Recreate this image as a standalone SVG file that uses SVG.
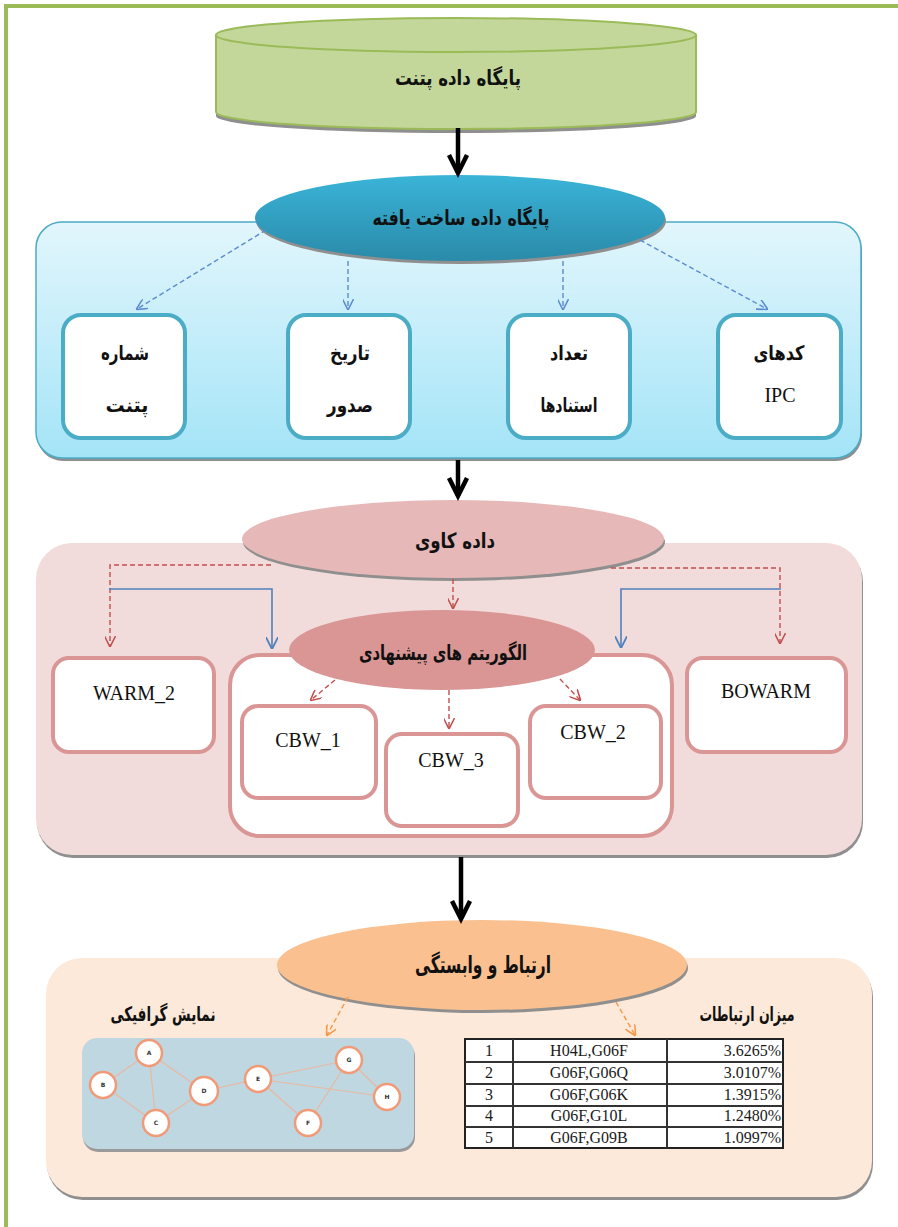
<svg xmlns="http://www.w3.org/2000/svg" width="898" height="1227" viewBox="0 0 898 1227">
<style>
.ar{font-family:"DejaVu Sans","Noto Sans",sans-serif;font-weight:bold;fill:#111;text-anchor:middle}
.lt{font-family:"Liberation Serif","Times New Roman",serif;fill:#111;text-anchor:middle;font-size:20px}
.tb{font-family:"Liberation Serif","Times New Roman",serif;fill:#1a1a1a;font-size:16px}
.box-b{fill:#fff;stroke:#4bacc6;stroke-width:4}
.box-r{fill:#fff;stroke:#d99694;stroke-width:4}
.blk{stroke:#000;stroke-width:4.5;fill:none}
.bdash{stroke:#5b8bd0;stroke-width:1.4;stroke-dasharray:5 3;fill:none}
.rdash{stroke:#c0504d;stroke-width:1.4;stroke-dasharray:5 3;fill:none}
.bsol{stroke:#4f81bd;stroke-width:1.6;fill:none}
.odash{stroke:#f79646;stroke-width:1.4;stroke-dasharray:5 3;fill:none}
.edge{stroke:#e9b8a0;stroke-width:1.2}
.gn{fill:#fff;stroke:#f19a78;stroke-width:2.5}
.gl{font-family:"DejaVu Sans",sans-serif;font-size:6px;font-weight:bold;fill:#333;text-anchor:middle}
.shadow{fill:#8f8f8f}
</style>
<defs>
<marker id="mb" viewBox="0 0 10 10" refX="9" refY="5" markerWidth="11" markerHeight="11" markerUnits="userSpaceOnUse" orient="auto"><path d="M0,0 L10,5 L0,10" fill="none" stroke="#5b8bd0" stroke-width="1.4"/></marker>
<marker id="mr" viewBox="0 0 10 10" refX="9" refY="5" markerWidth="11" markerHeight="11" markerUnits="userSpaceOnUse" orient="auto"><path d="M0,0 L10,5 L0,10" fill="none" stroke="#c0504d" stroke-width="1.4"/></marker>
<marker id="mbs" viewBox="0 0 10 10" refX="9" refY="5" markerWidth="12" markerHeight="12" markerUnits="userSpaceOnUse" orient="auto"><path d="M0,0 L10,5 L0,10" fill="none" stroke="#4f81bd" stroke-width="1.5"/></marker>
<marker id="mo" viewBox="0 0 10 10" refX="9" refY="5" markerWidth="11" markerHeight="11" markerUnits="userSpaceOnUse" orient="auto"><path d="M0,0 L10,5 L0,10" fill="none" stroke="#f79646" stroke-width="1.4"/></marker>
<linearGradient id="gBlueEll" x1="0" y1="0" x2="0" y2="1"><stop offset="0" stop-color="#3ab4d8"/><stop offset="1" stop-color="#2a8aa9"/></linearGradient>
<linearGradient id="gBluePanel" x1="0" y1="0" x2="0" y2="1"><stop offset="0" stop-color="#e2f6fc"/><stop offset="1" stop-color="#a4e4f7"/></linearGradient>
</defs>

<!-- page border -->
<g id="border">
<line x1="4" y1="6" x2="898" y2="6" stroke="#9bbb59" stroke-width="4"/>
<line x1="6" y1="4" x2="6" y2="1227" stroke="#9bbb59" stroke-width="4"/>
</g>

<!-- patent database cylinder -->
<g id="patent-db">
<path d="M216,36 L216,113 A240,17 0 0 0 696,113 L696,36 Z" class="shadow" transform="translate(0,3)"/>
<path d="M216,35 L216,112 A240,17 0 0 0 696,112 L696,35 Z" fill="#c4d79b" stroke="#9bbb59" stroke-width="2"/>
<ellipse cx="456" cy="35" rx="240" ry="17" fill="#c4d79b" stroke="#9bbb59" stroke-width="2"/>
<text class="ar" x="458" y="85" font-size="21" textLength="126" lengthAdjust="spacingAndGlyphs">پایگاه داده پتنت</text>
</g>

<!-- structured db panel -->
<g id="structured-panel">
<rect x="37" y="225" width="825" height="236" rx="26" class="shadow"/>
<rect x="36" y="222" width="825" height="236" rx="26" fill="url(#gBluePanel)" stroke="#4bacc6" stroke-width="1.5"/>
</g>

<g id="structured-db">
<ellipse cx="461" cy="221" rx="205" ry="43" class="shadow"/>
<ellipse cx="460" cy="218" rx="205" ry="43" fill="url(#gBlueEll)"/>
<text class="ar" x="461" y="225" font-size="21" textLength="177" lengthAdjust="spacingAndGlyphs">پایگاه داده ساخت یافته</text>
</g>

<g id="box-patent-no">
<rect x="63" y="315" width="122" height="123" rx="18" class="box-b"/>
<text class="ar" x="125" y="360" font-size="20" textLength="48" lengthAdjust="spacingAndGlyphs">شماره</text>
<text class="ar" x="127" y="412" font-size="20" textLength="43" lengthAdjust="spacingAndGlyphs">پتنت</text>
</g>
<g id="box-date">
<rect x="288" y="315" width="122" height="123" rx="18" class="box-b"/>
<text class="ar" x="350" y="360" font-size="20" textLength="40" lengthAdjust="spacingAndGlyphs">تاریخ</text>
<text class="ar" x="350" y="412" font-size="20" textLength="46" lengthAdjust="spacingAndGlyphs">صدور</text>
</g>
<g id="box-citations">
<rect x="508" y="315" width="122" height="123" rx="18" class="box-b"/>
<text class="ar" x="569" y="360" font-size="20" textLength="38" lengthAdjust="spacingAndGlyphs">تعداد</text>
<text class="ar" x="569" y="412" font-size="20" textLength="57" lengthAdjust="spacingAndGlyphs">استنادها</text>
</g>
<g id="box-ipc">
<rect x="718" y="315" width="123" height="123" rx="18" class="box-b"/>
<text class="ar" x="779" y="360" font-size="20" textLength="51" lengthAdjust="spacingAndGlyphs">کدهای</text>
<text class="lt" x="780" y="402">IPC</text>
</g>

<!-- data mining panel -->
<g id="mining-panel">
<rect x="37" y="546" width="826" height="312" rx="36" class="shadow"/>
<rect x="36" y="543" width="826" height="312" rx="36" fill="#f2dcdb"/>
</g>
<g id="data-mining">
<ellipse cx="454" cy="542" rx="211" ry="39" class="shadow"/>
<ellipse cx="453" cy="539" rx="211" ry="39" fill="#e6b9b8"/>
<text class="ar" x="455" y="548" font-size="21" textLength="80" lengthAdjust="spacingAndGlyphs">داده کاوی</text>
</g>

<g id="algo-container">
<rect x="230" y="655" width="442" height="181" rx="30" class="box-r"/>
</g>
<g id="proposed-algos">
<ellipse cx="442" cy="650" rx="153" ry="40" fill="#d99694"/>
<text class="ar" x="443" y="660" font-size="21" textLength="168" lengthAdjust="spacingAndGlyphs">الگوریتم های پیشنهادی</text>
</g>
<g id="warm2">
<rect x="53" y="658" width="161" height="94" rx="16" class="box-r"/>
<text class="lt" x="134" y="700">WARM_2</text>
</g>
<g id="bowarm">
<rect x="687" y="658" width="159" height="94" rx="16" class="box-r"/>
<text class="lt" x="766" y="698">BOWARM</text>
</g>
<g id="cbw1">
<rect x="242" y="706" width="134" height="92" rx="16" class="box-r"/>
<text class="lt" x="308" y="747">CBW_1</text>
</g>
<g id="cbw3">
<rect x="386" y="734" width="132" height="92" rx="16" class="box-r"/>
<text class="lt" x="451" y="767">CBW_3</text>
</g>
<g id="cbw2">
<rect x="530" y="706" width="131" height="92" rx="16" class="box-r"/>
<text class="lt" x="593" y="739">CBW_2</text>
</g>

<!-- association panel -->
<g id="assoc-panel">
<rect x="47" y="961" width="826" height="239" rx="36" class="shadow"/>
<rect x="46" y="958" width="826" height="239" rx="36" fill="#fde9d9"/>
</g>
<g id="association">
<ellipse cx="483" cy="968" rx="205" ry="45" class="shadow"/>
<ellipse cx="482" cy="965" rx="205" ry="45" fill="#fac090"/>
<text class="ar" x="483" y="973" font-size="24" textLength="136" lengthAdjust="spacingAndGlyphs">ارتباط و وابستگی</text>
</g>
<g id="graph-label">
<text class="ar" x="163" y="1021" font-size="20" textLength="105" lengthAdjust="spacingAndGlyphs">نمایش گرافیکی</text>
</g>
<g id="table-label">
<text class="ar" x="747" y="1021" font-size="20" textLength="95" lengthAdjust="spacingAndGlyphs">میزان ارتباطات</text>
</g>

<g id="graph">
<rect x="83" y="1041" width="332" height="111" rx="15" fill="#9a9a9a"/>
<rect x="82" y="1038" width="332" height="111" rx="15" fill="#bfd7e1"/>
<line class="edge" x1="149" y1="1053" x2="103" y2="1085"/>
<line class="edge" x1="149" y1="1053" x2="156" y2="1123"/>
<line class="edge" x1="149" y1="1053" x2="204" y2="1091"/>
<line class="edge" x1="103" y1="1085" x2="156" y2="1123"/>
<line class="edge" x1="156" y1="1123" x2="204" y2="1091"/>
<line class="edge" x1="204" y1="1091" x2="258" y2="1079"/>
<line class="edge" x1="258" y1="1079" x2="349" y2="1060"/>
<line class="edge" x1="258" y1="1079" x2="387" y2="1097"/>
<line class="edge" x1="258" y1="1079" x2="308" y2="1123"/>
<line class="edge" x1="349" y1="1060" x2="308" y2="1123"/>
<line class="edge" x1="349" y1="1060" x2="387" y2="1097"/>
<circle class="gn" cx="149" cy="1053" r="13"/><text class="gl" x="149" y="1055">A</text>
<circle class="gn" cx="103" cy="1085" r="13"/><text class="gl" x="103" y="1087">B</text>
<circle class="gn" cx="156" cy="1123" r="13"/><text class="gl" x="156" y="1125">C</text>
<circle class="gn" cx="204" cy="1091" r="14"/><text class="gl" x="204" y="1093">D</text>
<circle class="gn" cx="258" cy="1079" r="13"/><text class="gl" x="258" y="1081">E</text>
<circle class="gn" cx="308" cy="1123" r="13"/><text class="gl" x="308" y="1125">F</text>
<circle class="gn" cx="349" cy="1060" r="13"/><text class="gl" x="349" y="1062">G</text>
<circle class="gn" cx="387" cy="1097" r="13"/><text class="gl" x="387" y="1099">H</text>
</g>

<g id="table">
<rect x="465" y="1039" width="318" height="109" fill="#fff" stroke="#222" stroke-width="2"/>
<g stroke="#333" stroke-width="2">
<line x1="513" y1="1039" x2="513" y2="1148"/>
<line x1="667" y1="1039" x2="667" y2="1148"/>
<line x1="465" y1="1062" x2="783" y2="1062"/>
<line x1="465" y1="1084" x2="783" y2="1084"/>
<line x1="465" y1="1106" x2="783" y2="1106"/>
<line x1="465" y1="1127" x2="783" y2="1127"/>
</g>
<g class="tb">
<text x="489" y="1056" text-anchor="middle">1</text>
<text x="589" y="1056" text-anchor="middle">H04L,G06F</text>
<text x="781" y="1056" text-anchor="end">3.6265%</text>
<text x="489" y="1078" text-anchor="middle">2</text>
<text x="589" y="1078" text-anchor="middle">G06F,G06Q</text>
<text x="781" y="1078" text-anchor="end">3.0107%</text>
<text x="489" y="1100" text-anchor="middle">3</text>
<text x="589" y="1100" text-anchor="middle">G06F,G06K</text>
<text x="781" y="1100" text-anchor="end">1.3915%</text>
<text x="489" y="1121" text-anchor="middle">4</text>
<text x="589" y="1121" text-anchor="middle">G06F,G10L</text>
<text x="781" y="1121" text-anchor="end">1.2480%</text>
<text x="489" y="1143" text-anchor="middle">5</text>
<text x="589" y="1143" text-anchor="middle">G06F,G09B</text>
<text x="781" y="1143" text-anchor="end">1.0997%</text>
</g>
</g>

<!-- connectors -->
<g id="connectors">
<line class="blk" x1="458" y1="128" x2="458" y2="173"/>
<path class="blk" d="M449,155 L458,173 L467,155"/>
<line class="blk" x1="458" y1="460" x2="458" y2="496"/>
<path class="blk" d="M449,478 L458,496 L467,478"/>
<line class="blk" x1="461" y1="857" x2="461" y2="919"/>
<path class="blk" d="M452,901 L461,919 L470,901"/>

<path class="bdash" d="M266,230 L137,309" marker-end="url(#mb)"/>
<path class="bdash" d="M348,261 L348,309" marker-end="url(#mb)"/>
<path class="bdash" d="M563,261 L563,309" marker-end="url(#mb)"/>
<path class="bdash" d="M640,240 L767,309" marker-end="url(#mb)"/>

<path class="rdash" d="M271,565 L110,565 L110,646" marker-end="url(#mr)"/>
<path class="bsol" d="M109,589 L272,589 L272,648" marker-end="url(#mbs)"/>
<path class="rdash" d="M453,579 L453,608" marker-end="url(#mr)"/>
<path class="rdash" d="M611,568 L780,568 L780,643" marker-end="url(#mr)"/>
<path class="bsol" d="M781,589 L621,589 L621,647" marker-end="url(#mbs)"/>
<path class="rdash" d="M335,680 L311,700" marker-end="url(#mr)"/>
<path class="rdash" d="M449,690 L449,728" marker-end="url(#mr)"/>
<path class="rdash" d="M560,679 L580,700" marker-end="url(#mr)"/>

<path class="odash" d="M348,997 L327,1035" marker-end="url(#mo)"/>
<path class="odash" d="M616,1002 L635,1035" marker-end="url(#mo)"/>
</g>
</svg>
